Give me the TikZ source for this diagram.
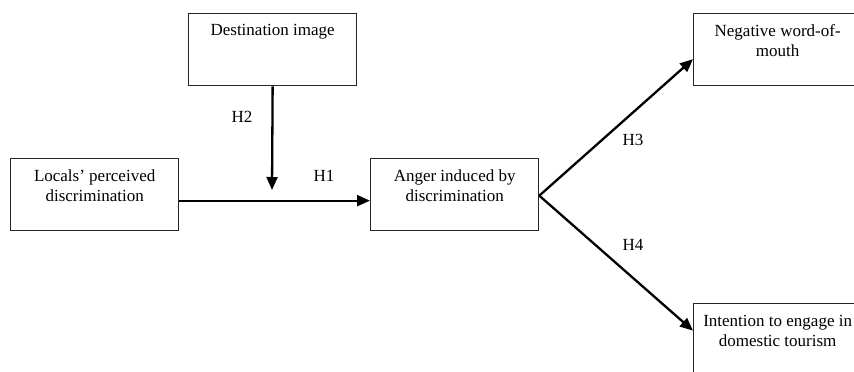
\documentclass[tikz,border=0pt]{standalone}
\usepackage{fontspec}
\setmainfont{Liberation Serif}
\usetikzlibrary{arrows.meta}

\tikzset{
  box/.style={draw=black!85, line width=1.3pt, minimum width=168pt,
    minimum height=72pt, inner sep=0pt, anchor=north west},
  boxtext/.style={anchor=north, align=center, inner sep=0pt,
    font=\fontsize{17}{20}\selectfont},
  hyp/.style={inner sep=0pt, font=\fontsize{17}{20}\selectfont},
  link/.style={line width=2.3pt, draw=black,
    -{Triangle[length=13pt,width=11pt]}}
}

\begin{document}
\begin{tikzpicture}[x=1pt, y=-1pt]
  \useasboundingbox (0,0) rectangle (854,372);
  \clip (0,0) rectangle (854,372);

  % construct boxes
  \node[box] (dest) at (188,13)  {};
  \node[box] (loc)  at (10,158)  {};
  \node[box] (ang)  at (370,158) {};
  \node[box] (neg)  at (693,13)  {};
  \node[box] (int)  at (693,303) {};

  % box captions, set at the top of each box
  \node[boxtext] (destT) at ([yshift=-11pt]dest.north) {Destination image};
  \node[boxtext] (locT)  at ([yshift=-12pt]loc.north)  {Locals’ perceived\\discrimination};
  \node[boxtext] (angT)  at ([yshift=-12pt]ang.north)  {Anger induced by\\discrimination};
  \node[boxtext] (negT)  at ([yshift=-11pt]neg.north)  {Negative word-of-\\mouth};
  \node[boxtext] (intT)  at ([yshift=-12pt]int.north)  {Intention to engage in\\domestic tourism};

  % hypothesis labels
  \node[hyp] (h1) at (324,176) {H1};
  \node[hyp] (h2) at (242,117) {H2};
  \node[hyp] (h3) at (633,140) {H3};
  \node[hyp] (h4) at (633,245) {H4};

  % paths
  \coordinate (mod) at (272,190);
  \draw[link] ([yshift=-6pt]loc.east) -- ([yshift=-6pt]ang.west);
  \draw[link] (dest.south) -- (mod);
  \draw[link] ([yshift=-1pt]ang.east) -- ([yshift=-9.5pt]neg.west);
  \draw[link] ([yshift=-1pt]ang.east) -- ([yshift=9pt]int.west);
\end{tikzpicture}
\end{document}
